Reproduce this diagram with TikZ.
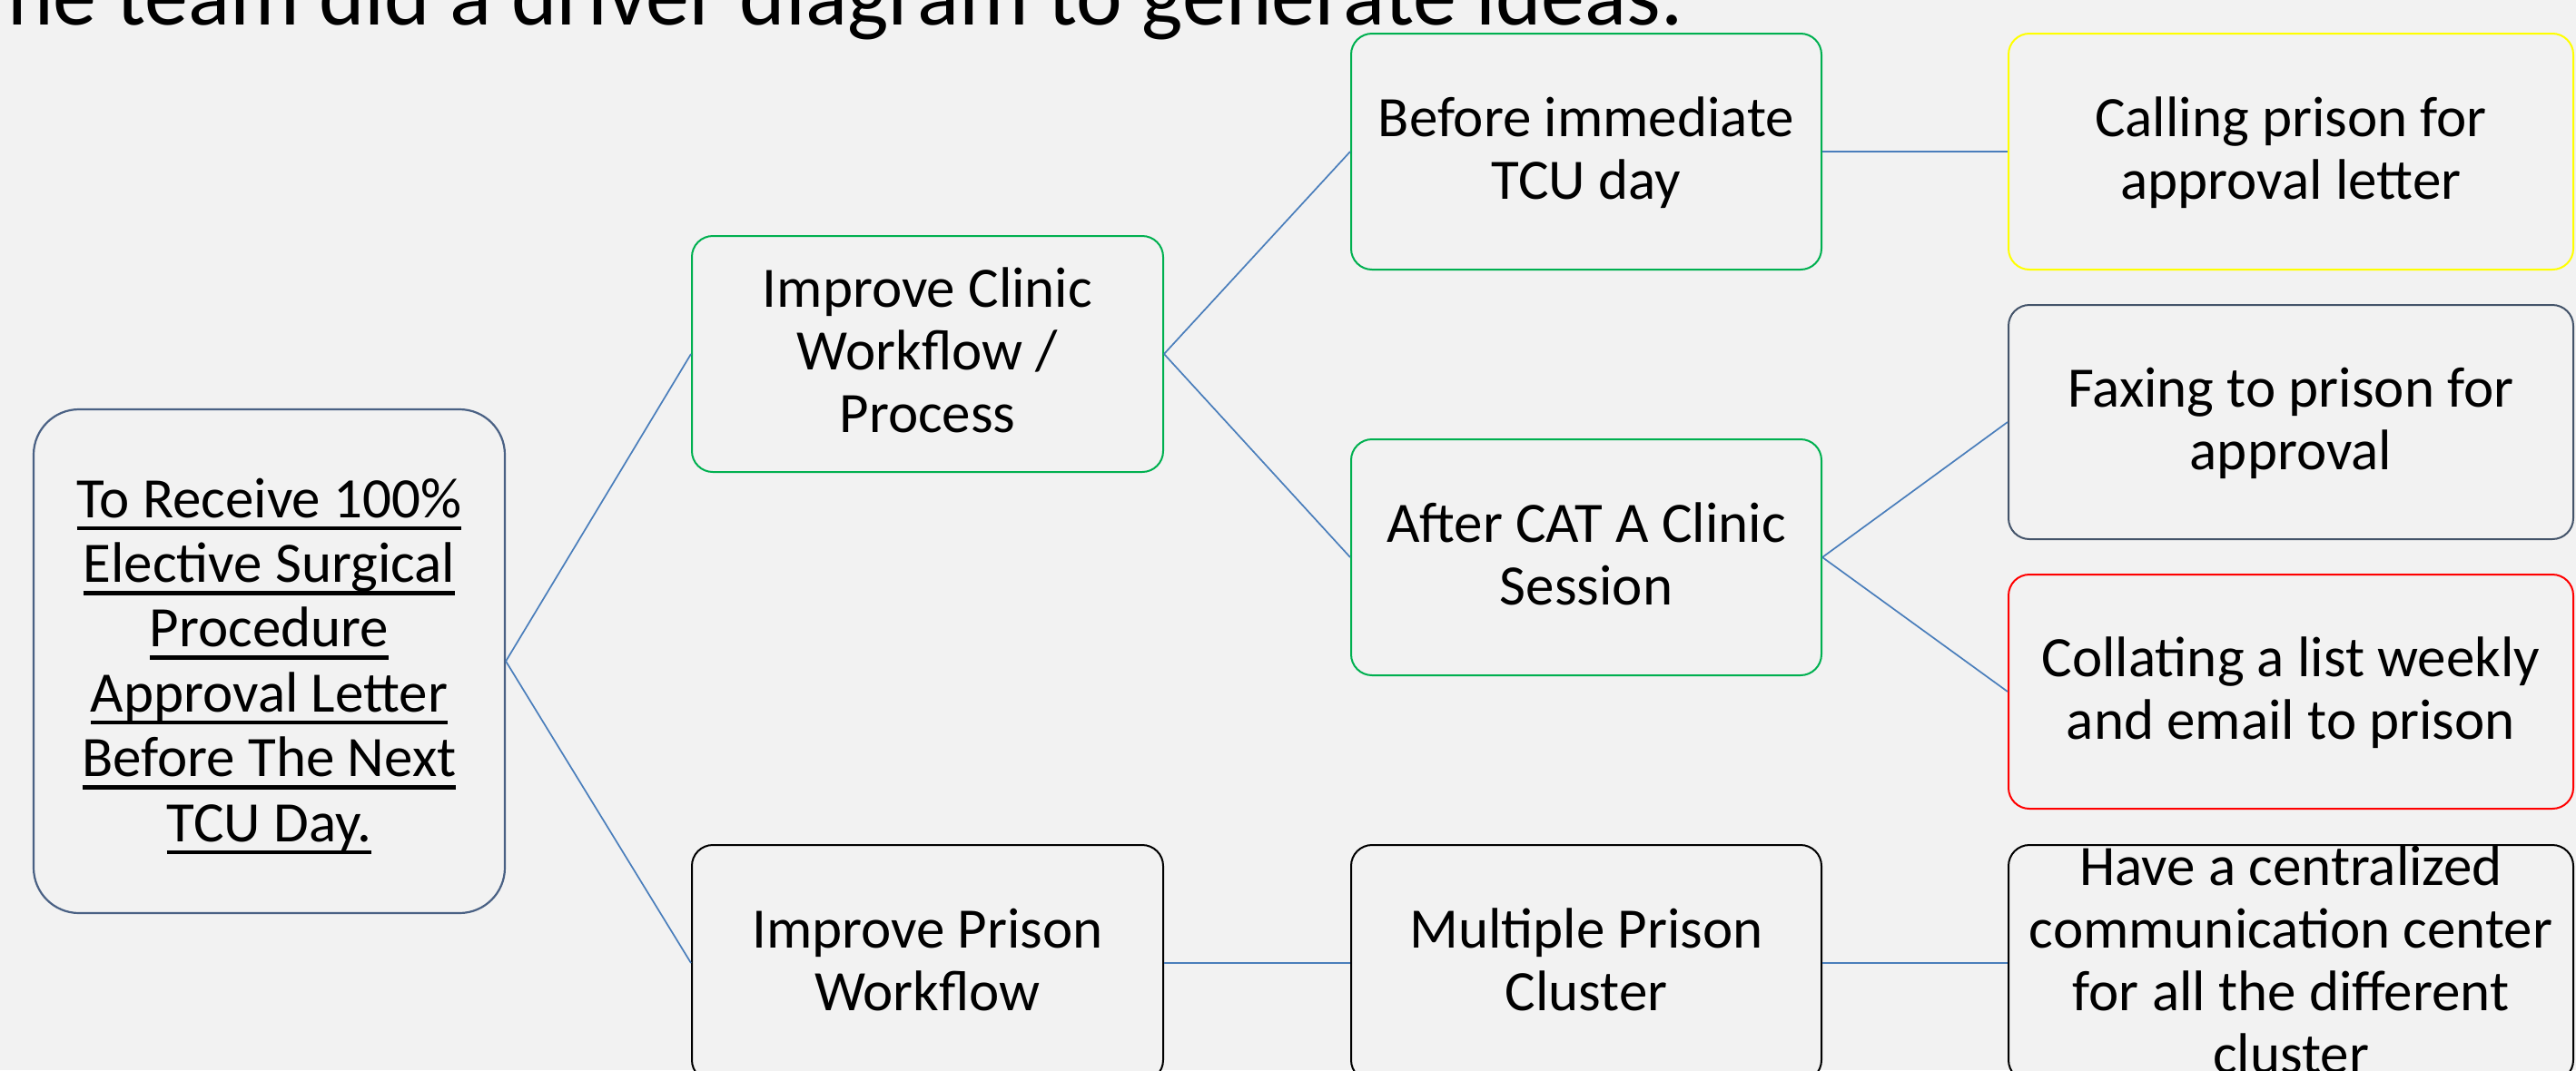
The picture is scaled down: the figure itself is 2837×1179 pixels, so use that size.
\documentclass[tikz,border=0pt]{standalone}
\usepackage{fontspec}
\setmainfont{Carlito}
\definecolor{bgc}{HTML}{F2F2F2}
\definecolor{connc}{HTML}{4A7EBB}
\definecolor{greenc}{HTML}{00B050}
\definecolor{yellowc}{HTML}{FFFF00}
\definecolor{redc}{HTML}{FF0000}
\definecolor{slatec}{HTML}{44546A}
\definecolor{goalc}{HTML}{4A6184}
\newcommand\bxfont{\fontsize{31.5pt}{34.5pt}\selectfont}
\newcommand\goalfont{\fontsize{31.5pt}{35.7pt}\selectfont}
\newcommand\titlefont{\fontsize{48pt}{57pt}\selectfont}
\newcommand\ulx[1]{\leavevmode\setbox0\hbox{#1}\rlap{\rule[-7.1pt]{\wd0}{2.3pt}}\box0}
\begin{document}
\begin{tikzpicture}[x=0.5pt,y=-0.5pt,
  box/.style={draw, line width=1pt, fill=bgc, rounded corners=11.5pt,
    minimum width=259.5pt, minimum height=130pt, inner xsep=0pt, inner ysep=0pt,
    align=center, font=\bxfont, text depth=2.5pt},
  two/.style={text height=54.5pt},
  three/.style={text height=89pt},
  four/.style={text height=123.5pt},
  conn/.style={draw=connc, line width=0.85pt}]
\fill[bgc] (0,0) rectangle (2837,1179);
\useasboundingbox (0,0) rectangle (2837,1179);
\clip (0,0) rectangle (2837,1179);

\node[anchor=base east, font=\titlefont, inner sep=0pt] (title) at (1854,27)
  {The team did a driver diagram to generate ideas.};

% goal
\node[box, draw=goalc, line width=1.1pt, rounded corners=25pt, minimum width=259.5pt,
  minimum height=277.5pt, font=\goalfont, text height=198.5pt, text depth=0pt] (goal) at (296.5,728.5)
  {\ulx{To Receive 100\%}\\\ulx{Elective Surgical}\\\ulx{Procedure}\\\ulx{Approval Letter}\\\ulx{Before The Next}\\\ulx{TCU Day.}};

% primary drivers
\node[box, draw=greenc, three] (ic) at (1021.5,390) {Improve Clinic\\Workflow /\\Process};
\node[box, draw=black, two] (ip) at (1021.5,1061) {Improve Prison\\Workflow};

% secondary drivers
\node[box, draw=greenc, two, minimum width=259pt] (bi) at (1747,167) {Before immediate\\TCU day};
\node[box, draw=greenc, two, minimum width=259pt] (ac) at (1747,614) {After CAT A Clinic\\Session};
\node[box, draw=black, two, minimum width=259pt] (mp) at (1747,1061) {Multiple Prison\\Cluster};

% change ideas
\node[box, draw=yellowc, two, minimum width=311pt] (cp) at (2523,167) {Calling prison for\\approval letter};
\node[box, draw=slatec, two, minimum width=311pt, minimum height=129pt] (fp) at (2523,465) {Faxing to prison for\\approval};
\node[box, draw=redc, two, minimum width=311pt, minimum height=129pt] (cl) at (2523,762) {Collating a list weekly\\and email to prison};
\node[box, draw=black, four, minimum width=311pt] (hc) at (2523,1061) {Have a centralized\\communication center\\for all the different\\cluster};

% connectors
\draw[conn] (goal.east) -- (ic.west);
\draw[conn] (goal.east) -- (ip.west);
\draw[conn] (ic.east) -- (bi.west);
\draw[conn] (ic.east) -- (ac.west);
\draw[conn] (bi.east) -- (cp.west);
\draw[conn] (ac.east) -- (fp.west);
\draw[conn] (ac.east) -- (cl.west);
\draw[conn] (ip.east) -- (mp.west);
\draw[conn] (mp.east) -- (hc.west);
\end{tikzpicture}
\end{document}
